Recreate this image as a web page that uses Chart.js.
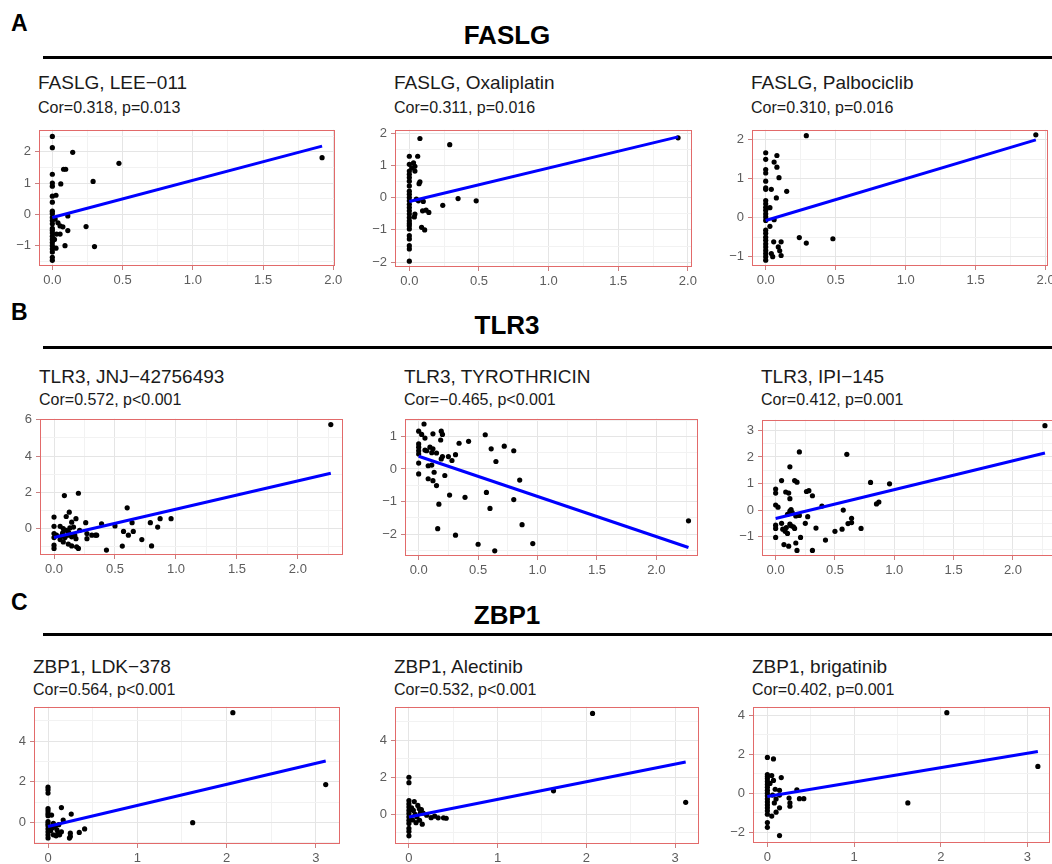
<!DOCTYPE html>
<html>
<head>
<meta charset="utf-8">
<script src="https://cdn.jsdelivr.net/npm/chart.js@4.4.1/dist/chart.umd.min.js"></script>
<style>
html, body { margin: 0; padding: 0; background: #fff; overflow: hidden; }
body { width: 1052px; height: 864px; position: relative; font-family: "Liberation Sans", Arial, Helvetica, sans-serif; color: #1a1a1a; }
.abs { position: absolute; white-space: nowrap; }
.tag { font-size: 23px; font-weight: bold; line-height: 26px; color: #000; }
.gene { font-size: 26px; font-weight: bold; line-height: 30px; color: #000; transform: translateX(-50%); }
.rule { position: absolute; left: 43px; width: 1020px; height: 3px; background: #000; }
.t1 { font-size: 19px; line-height: 22px; }
.t2 { font-size: 16px; line-height: 18px; }
canvas { position: absolute; }
</style>
</head>
<body>
<script>
// ====================
// データ
// ====================
const faslgLeeX = [0, 0, 0.145, 0.474, 1.92, 0.08, 0.095, 0.29, 0, 0, 0, 0.06, 0, 0.026, 0, 0, 0, 0.11, 0, 0, 0, 0, 0, 0, 0, 0, 0, 0, 0.04, 0.055, 0.075, 0.03, 0.055, 0.11, 0.24, 0.09, 0.30, 0.026, 0, 0, 0, 0.02, 0, 0.015];
const faslgLeeY = [2.49, 2.13, 1.98, 1.63, 1.81, 1.44, 1.44, 1.05, 1.28, 1.0, 0.9, 0.97, 0.58, 0.61, 0.39, 0.1, 0.02, -0.05, -0.2, -0.3, -0.45, -0.6, -0.7, -0.8, -0.9, -1.0, -1.1, -1.2, -0.27, -0.37, -0.4, -0.63, -0.63, -0.52, -0.39, -1.0, -1.03, -1.08, -1.37, -1.47, -0.1, -0.15, -0.52, -0.8];
const faslgLeeFitX = [0, 1.92];
const faslgLeeFitY = [-0.1, 2.18];

const faslgOxaX = [0, 0, 0, 0, 0, 0, 0, 0, 0, 0, 0, 0, 0, 0, 0, 0, 0, 0, 0, 0, 0, 0, 0.076, 0.29, 0.06, 0.03, 0.04, 0.017, 0.04, 0.076, 0.07, 0.05, 0.065, 0.1, 0.35, 0.48, 0.24, 0.095, 0.12, 0.14, 0.04, 0.036, 0.088, 0.11, 1.93, 0, 0, 0];
const faslgOxaY = [-1.97, -1.59, -1.49, -1.28, -1.18, -0.97, -0.87, -0.72, -0.62, -0.51, -0.41, -0.31, -0.21, -0.1, 0.1, 0.2, 0.36, 0.51, 0.72, 0.82, 1.03, 1.28, 1.83, 1.64, 1.28, 1.08, 0.97, 0.92, 0.82, 0.49, 0.43, -0.05, -0.1, -0.12, -0.03, -0.1, -0.24, -0.41, -0.39, -0.46, -0.51, -0.6, -0.92, -1.0, 1.85, 0.0, -0.8, 0.62];
const faslgOxaFitX = [0, 1.93];
const faslgOxaFitY = [-0.12, 1.88];

const faslgPalX = [0.29, 1.93, 0, 0, 0, 0, 0, 0, 0.08, 0.06, 0.08, 0.095, 0.15, 0.04, 0.076, 0, 0, 0, 0, 0, 0, 0, 0.03, 0.06, 0.03, 0, 0, 0, 0, 0, 0, 0, 0, 0, 0, 0.057, 0.11, 0.09, 0.1, 0.11, 0.04, 0.05, 0.24, 0.29, 0.48, 0];
const faslgPalY = [2.11, 2.13, 1.67, 1.5, 1.24, 1.15, 0.94, 0.77, 1.6, 1.43, 1.3, 1.03, 0.68, 0.73, 0.51, 0.44, 0.36, 0.27, 0.19, 0.1, 0.02, -0.07, 0.26, -0.05, -0.22, -0.32, -0.4, -0.5, -0.58, -0.67, -0.75, -0.84, -0.92, -1.0, -1.09, -0.62, -0.62, -0.75, -0.85, -0.97, -0.92, -1.0, -0.51, -0.65, -0.54, 0.73];
const faslgPalFitX = [0, 1.93];
const faslgPalFitY = [-0.07, 2.0];

const tlr3JnjX = [2.27, 0.085, 0.2, 0.6, 0.125, 0, 0.1, 0.18, 0.145, 0.26, 0.39, 0.64, 0.79, 0.87, 0.96, 0.85, 0.5, 0, 0.05, 0.076, 0.1, 0.13, 0.16, 0.21, 0, 0.02, 0.06, 0.09, 0.117, 0.145, 0.17, 0.27, 0.31, 0.34, 0.35, 0.27, 0.57, 0.61, 0.65, 0.72, 0, 0, 0, 0.05, 0.076, 0.117, 0.145, 0.185, 0.2, 0.43, 0.56, 0.8, 0.18, 0.12, 0.07];
const tlr3JnjY = [5.73, 1.82, 1.95, 1.15, 0.91, 0.64, 0.67, 0.55, 0.36, 0.33, 0.27, 0.33, 0.33, 0.55, 0.55, 0.09, 0.15, 0.13, 0.13, 0, -0.09, 0.04, 0.09, -0.09, -0.27, -0.36, -0.42, -0.49, -0.36, -0.45, -0.36, -0.27, -0.36, -0.36, -0.36, -0.55, -0.15, -0.36, -0.15, -0.6, -0.49, -0.91, -1.09, -0.6, -0.73, -0.85, -0.95, -1.0, -1.09, -1.18, -0.96, -0.95, -0.55, -0.2, -0.25];
const tlr3JnjFitX = [0, 2.27];
const tlr3JnjFitY = [-0.49, 3.05];

const tlr3TyrX = [0.045, 0, 0.025, 0.053, 0.12, 0.19, 0.2, 0.185, 0, 0, 0, 0, 0.067, 0.095, 0.12, 0.11, 0.15, 0.053, 0.2, 0.19, 0.25, 0.28, 0.31, 0.34, 0.42, 0.56, 0.61, 0.72, 0.8, 0.65, 0, 0.08, 0.11, 0.13, 0, 0.22, 0.08, 0.12, 0.15, 0.85, 0.26, 0.39, 0.57, 0.8, 0.6, 0.17, 0.87, 0.16, 0.31, 0.5, 0.64, 0.96, 2.27];
const tlr3TyrY = [1.38, 1.16, 1.06, 0.95, 1.08, 1.16, 1.06, 0.89, 0.77, 0.67, 0.56, 0.46, 0.56, 0.67, 0.62, 0.5, 0.49, 0.58, 0.38, 0.31, 0.38, 0.26, 0.44, 0.79, 0.85, 1.05, 0.62, 0.7, 0.56, 0.23, 0.18, 0.1, 0.12, -0.1, -0.15, -0.2, -0.3, -0.36, -0.51, -0.34, -0.8, -0.87, -0.72, -0.94, -1.21, -1.08, -1.71, -1.83, -2.03, -2.31, -2.51, -2.29, -1.59];
const tlr3TyrFitX = [0, 2.27];
const tlr3TyrFitY = [0.39, -2.41];

const tlr3IpiX = [2.27, 0.2, 0.6, 0.12, 0.05, 0.16, 0.18, 0.8, 0.96, 0, 0, 0.085, 0.11, 0.12, 0.26, 0.28, 0.31, 0.39, 0, 0.02, 0.85, 0.87, 0.57, 0.12, 0.13, 0.1, 0.2, 0.17, 0.27, 0, 0, 0.05, 0.06, 0.09, 0.12, 0.13, 0.15, 0.16, 0.64, 0.64, 0.61, 0.25, 0.34, 0.5, 0.56, 0.72, 0, 0.1, 0.21, 0.42, 0.07, 0.11, 0.17, 0.18, 0.31, 0.08, 0.14];
const tlr3IpiY = [3.18, 2.19, 2.1, 1.63, 1.11, 1.11, 1.05, 1.04, 0.99, 0.79, 0.64, 0.68, 0.64, 0.43, 0.7, 0.73, 0.54, 0.15, 0.19, 0.11, 0.23, 0.3, 0, -0.04, 0.02, -0.16, -0.2, -0.22, -0.25, -0.57, -0.69, -0.5, -0.72, -0.66, -0.53, -0.59, -0.63, -0.69, -0.31, -0.47, -0.51, -0.5, -0.68, -0.8, -0.72, -0.69, -1.03, -0.88, -1.03, -1.13, -1.3, -1.36, -1.24, -1.52, -1.52, -0.8, -0.1];
const tlr3IpiFitX = [0, 2.27];
const tlr3IpiFitY = [-0.32, 2.15];

const zbp1LdkX = [2.07, 3.11, 1.62, 0, 0, 0, 0, 0, 0, 0, 0.04, 0.15, 0.26, 0.17, 0, 0, 0, 0, 0, 0, 0, 0.06, 0.08, 0.1, 0.11, 0.13, 0.15, 0.06, 0.09, 0.25, 0.25, 0.24, 0.35, 0.41, 0.03, 0.12, 0.05];
const zbp1LdkY = [5.4, 1.87, 0, 1.74, 1.61, 1.45, 0.69, 0.58, 0.45, 0.34, 0.37, 0.74, 0.42, 0.13, 0.05, -0.05, -0.15, -0.3, -0.45, -0.6, -0.75, -0.03, -0.2, -0.35, -0.5, -0.6, -0.45, -0.6, -0.65, -0.52, -0.68, -0.76, -0.48, -0.31, -0.4, -0.1, -0.25];
const zbp1LdkFitX = [0, 3.11];
const zbp1LdkFitY = [-0.19, 3.03];

const zbp1AleX = [2.07, 3.12, 1.63, 0, 0, 0, 0, 0, 0, 0, 0, 0, 0, 0, 0, 0, 0.06, 0.1, 0.117, 0.14, 0.16, 0.05, 0.07, 0.09, 0.12, 0.15, 0.25, 0.29, 0.33, 0.39, 0.42, 0.04, 0.08, 0.13, 0.2, 0.03];
const zbp1AleY = [5.44, 0.65, 1.27, 2.0, 1.71, 0.74, 0.56, 0.39, 0.21, 0.04, -0.14, -0.32, -0.49, -0.76, -0.93, -1.16, 0.69, 0.48, 0.3, 0.25, 0.07, 0.21, 0.0, -0.14, -0.32, -0.53, -0.18, -0.1, -0.19, -0.19, -0.21, -0.3, -0.45, 0.1, -0.05, 0.35];
const zbp1AleFitX = [0, 3.12];
const zbp1AleFitY = [-0.14, 2.82];

const zbp1BriX = [2.07, 3.12, 1.62, 0, 0.07, 0.16, 0, 0, 0, 0, 0, 0, 0, 0, 0, 0, 0, 0, 0, 0, 0, 0, 0, 0.07, 0.05, 0.09, 0.06, 0.1, 0.14, 0.14, 0.25, 0.26, 0.26, 0.34, 0.37, 0.42, 0.14, 0.1, 0.05, 0.14, 0.03, 0.08];
const zbp1BriY = [4.12, 1.37, -0.5, 1.83, 1.75, 0.8, 0.95, 0.85, 0.75, 0.6, 0.45, 0.3, 0.15, 0, -0.15, -0.3, -0.45, -0.6, -0.75, -0.9, -1.08, -1.5, -1.75, 0.65, 0.9, 0.2, -0.1, -0.3, 0.15, -0.1, -0.25, -0.5, -0.67, 0.17, -0.28, -0.28, -0.75, -0.97, -1.17, -2.17, 0.5, -0.5];
const zbp1BriFitX = [0, 3.12];
const zbp1BriFitY = [-0.17, 2.13];

// 目盛り
const xTicksAB = [0, 0.5, 1, 1.5, 2];
const xTicksC = [0, 1, 2, 3];
const yTicksFaslgLee = [-1, 0, 1, 2];
const yTicksFaslgOxa = [-2, -1, 0, 1, 2];
const yTicksFaslgPal = [-1, 0, 1, 2];
const yTicksTlr3Jnj = [0, 2, 4, 6];
const yTicksTlr3Tyr = [-2, -1, 0, 1];
const yTicksTlr3Ipi = [-1, 0, 1, 2, 3];
const yTicksZbp1Ldk = [0, 2, 4];
const yTicksZbp1Ale = [0, 2, 4];
const yTicksZbp1Bri = [-2, 0, 2, 4];

// ====================
// ヘッダー
// ====================
function addDiv(cls, text, left, top) {
    const d = document.createElement("div");
    d.className = "abs " + cls;
    d.textContent = text;
    d.style.left = left + "px";
    d.style.top = top + "px";
    document.body.appendChild(d);
    return d;
}

const sections = [
    { tag: "A", gene: "FASLG", top: 10, geneTop: 20, rule: 56 },
    { tag: "B", gene: "TLR3", top: 299, geneTop: 310, rule: 346 },
    { tag: "C", gene: "ZBP1", top: 589, geneTop: 600, rule: 633 }
];
sections.forEach(s => {
    addDiv("tag", s.tag, 11, s.top);
    addDiv("gene", s.gene, 507, s.geneTop);
    const r = document.createElement("div");
    r.className = "rule";
    r.style.top = s.rule + "px";
    document.body.appendChild(r);
});

// ====================
// パネル
// ====================
const panels = [
    { title: "FASLG, LEE\u2212011", sub: "Cor=0.318, p=0.013", xs: faslgLeeX, ys: faslgLeeY, fx: faslgLeeFitX, fy: faslgLeeFitY,
      xt: xTicksAB, yt: yTicksFaslgLee, xr: [-0.095, 2.012], yr: [-1.65, 2.7], box: [39, 128, 335, 266], tt: [72, 99], dec: 1 },
    { title: "FASLG, Oxaliplatin", sub: "Cor=0.311, p=0.016", xs: faslgOxaX, ys: faslgOxaY, fx: faslgOxaFitX, fy: faslgOxaFitY,
      xt: xTicksAB, yt: yTicksFaslgOxa, xr: [-0.103, 2.03], yr: [-2.15, 2.1], box: [395, 128, 692, 267], tt: [72, 99], dec: 1 },
    { title: "FASLG, Palbociclib", sub: "Cor=0.310, p=0.016", xs: faslgPalX, ys: faslgPalY, fx: faslgPalFitX, fy: faslgPalFitY,
      xt: xTicksAB, yt: yTicksFaslgPal, xr: [-0.098, 2.017], yr: [-1.24, 2.26], box: [752, 128, 1048, 266], tt: [72, 99], dec: 1 },
    { title: "TLR3, JNJ\u221242756493", sub: "Cor=0.572, p<0.001", xs: tlr3JnjX, ys: tlr3JnjY, fx: tlr3JnjFitX, fy: tlr3JnjFitY,
      xt: xTicksAB, yt: yTicksTlr3Jnj, xr: [-0.115, 2.37], yr: [-1.45, 6.05], box: [40, 417, 343, 555], tt: [366, 391], dec: 1 },
    { title: "TLR3, TYROTHRICIN", sub: "Cor=\u22120.465, p<0.001", xs: tlr3TyrX, ys: tlr3TyrY, fx: tlr3TyrFitX, fy: tlr3TyrFitY,
      xt: xTicksAB, yt: yTicksTlr3Tyr, xr: [-0.115, 2.35], yr: [-2.67, 1.54], box: [405, 417, 698, 556], tt: [366, 391], dec: 1 },
    { title: "TLR3, IPI\u2212145", sub: "Cor=0.412, p=0.001", xs: tlr3IpiX, ys: tlr3IpiY, fx: tlr3IpiFitX, fy: tlr3IpiFitY,
      xt: xTicksAB, yt: yTicksTlr3Ipi, xr: [-0.115, 2.38], yr: [-1.73, 3.4], box: [762, 418, 1058, 556], tt: [366, 391], dec: 1 },
    { title: "ZBP1, LDK\u2212378", sub: "Cor=0.564, p<0.001", xs: zbp1LdkX, ys: zbp1LdkY, fx: zbp1LdkFitX, fy: zbp1LdkFitY,
      xt: xTicksC, yt: yTicksZbp1Ldk, xr: [-0.157, 3.27], yr: [-1.05, 5.69], box: [34, 705, 340, 844], tt: [656, 681], dec: 0 },
    { title: "ZBP1, Alectinib", sub: "Cor=0.532, p<0.001", xs: zbp1AleX, ys: zbp1AleY, fx: zbp1AleFitX, fy: zbp1AleFitY,
      xt: xTicksC, yt: yTicksZbp1Ale, xr: [-0.157, 3.27], yr: [-1.6, 5.8], box: [395, 705, 699, 844], tt: [656, 681], dec: 0 },
    { title: "ZBP1, brigatinib", sub: "Cor=0.402, p=0.001", xs: zbp1BriX, ys: zbp1BriY, fx: zbp1BriFitX, fy: zbp1BriFitY,
      xt: xTicksC, yt: yTicksZbp1Bri, xr: [-0.166, 3.26], yr: [-2.55, 4.42], box: [753, 705, 1050, 843], tt: [656, 681], dec: 0 }
];

// 大目盛りの間に小目盛りを足す
function withMinor(major, range) {
    const step = major[1] - major[0];
    const all = major.slice();
    for (let i = -1; i < major.length; i++) {
        const m = (i < 0 ? major[0] - step : major[i]) + step / 2;
        if (m > range[0] && m < range[1]) all.push(m);
    }
    return all.sort((a, b) => a - b);
}
const isMajor = (list, v) => list.some(t => Math.abs(t - v) < 1e-9);
const fmt = (v, dec) => (v < 0 ? "\u2212" : "") + Math.abs(v).toFixed(dec);

const panelBorder = {
    id: "panelBorder",
    afterDraw(chart) {
        const a = chart.chartArea, c = chart.ctx;
        c.save();
        c.strokeStyle = "#e26a6a";
        c.lineWidth = 1;
        c.strokeRect(Math.round(a.left) + 0.5, Math.round(a.top) + 0.5, Math.round(a.width) - 1, Math.round(a.height) - 1);
        c.restore();
    }
};

const YW = 32, XH = 26, PT = 10, PR = 16;
const tickFont = { family: "'Liberation Sans', Arial, sans-serif", size: 13 };

panels.forEach(p => {
    const [l, t, r, b] = p.box;
    addDiv("t1", p.title, l - 1, p.tt[0]);
    addDiv("t2", p.sub, l - 1, p.tt[1]);

    const cv = document.createElement("canvas");
    const w = (r - l) + YW + PR, h = (b - t) + PT + XH;
    cv.width = w; cv.height = h;
    cv.style.left = (l - YW) + "px";
    cv.style.top = (t - PT) + "px";
    cv.style.width = w + "px";
    cv.style.height = h + "px";
    document.body.appendChild(cv);

    const pts = p.xs.map((x, i) => ({ x: x, y: p.ys[i] }));
    const fit = p.fx.map((x, i) => ({ x: x, y: p.fy[i] }));
    const xAll = withMinor(p.xt, p.xr);
    const yAll = withMinor(p.yt, p.yr);

    new Chart(cv, {
        type: "scatter",
        data: {
            datasets: [
                { data: fit, showLine: true, pointRadius: 0, borderColor: "#0000ff", borderWidth: 3, fill: false },
                { data: pts, pointRadius: 2.6, pointBackgroundColor: "#000", pointBorderWidth: 0 }
            ]
        },
        options: {
            responsive: false,
            animation: false,
            devicePixelRatio: 1,
            layout: { padding: { top: PT, right: PR, left: 0, bottom: 0 } },
            plugins: { legend: { display: false }, tooltip: { enabled: false } },
            scales: {
                x: {
                    type: "linear", min: p.xr[0], max: p.xr[1],
                    afterBuildTicks: s => { s.ticks = xAll.map(v => ({ value: v })); },
                    afterFit: s => { s.height = XH; },
                    ticks: {
                        autoSkip: false, maxRotation: 0, padding: 3, color: "#5c5c5c", font: tickFont,
                        callback: v => isMajor(p.xt, v) ? fmt(v, p.dec) : ""
                    },
                    grid: {
                        color: c => isMajor(p.xt, c.tick.value) ? "#e5e5e5" : "#f2f2f2",
                        tickColor: c => isMajor(p.xt, c.tick.value) ? "#c98080" : "rgba(0,0,0,0)",
                        tickLength: 4
                    },
                    border: { display: false }
                },
                y: {
                    type: "linear", min: p.yr[0], max: p.yr[1],
                    afterBuildTicks: s => { s.ticks = yAll.map(v => ({ value: v })); },
                    afterFit: s => { s.width = YW; },
                    ticks: {
                        autoSkip: false, padding: 4, color: "#5c5c5c", font: tickFont,
                        callback: v => isMajor(p.yt, v) ? fmt(v, 0) : ""
                    },
                    grid: {
                        color: c => isMajor(p.yt, c.tick.value) ? "#e5e5e5" : "#f2f2f2",
                        tickColor: c => isMajor(p.yt, c.tick.value) ? "#c98080" : "rgba(0,0,0,0)",
                        tickLength: 4
                    },
                    border: { display: false }
                }
            }
        },
        plugins: [panelBorder]
    });
});
</script>
</body>
</html>
